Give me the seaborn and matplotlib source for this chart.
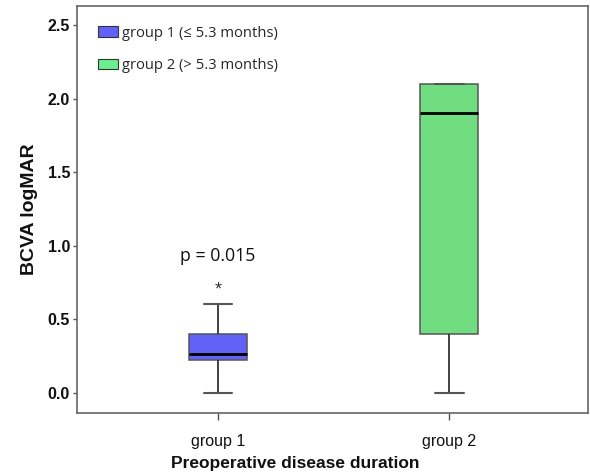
import pandas as pd
import numpy as np
import matplotlib
matplotlib.use("Agg")
import matplotlib.pyplot as plt
import seaborn as sns
from matplotlib.patches import Patch

# BCVA logMAR values per group
group_names = ["group 1", "group 2"]
group1_values = [0.0, 0.22, 0.26, 0.40, 0.60]
group2_values = [0.0, 0.40, 1.90, 2.10, 2.10]
legend_labels = ["group 1 (\u2264 5.3 months)", "group 2 (> 5.3 months)"]
box_colors = ["#6262F8", "#70DD80"]
legend_colors = ["#6262FA", "#6CF08E"]
y_ticks = [0.0, 0.5, 1.0, 1.5, 2.0, 2.5]

df = pd.DataFrame({
    "group": [group_names[0]] * len(group1_values) + [group_names[1]] * len(group2_values),
    "value": group1_values + group2_values,
})

sns.set_style("white")
plt.rcParams["font.family"] = ["Liberation Sans", "DejaVu Sans"]

fig = plt.figure(figsize=(5.9, 4.76), dpi=100)
ax = fig.add_axes([0.1305, 0.132, 0.866, 0.855])

sns.boxplot(data=df, x="group", y="value", hue="group", palette=box_colors,
            saturation=1, width=0.25, linecolor="#555555", linewidth=1.1,
            legend=False, ax=ax,
            medianprops=dict(color="black", linewidth=2),
            whiskerprops=dict(color="#333333", linewidth=1.3),
            capprops=dict(color="#555555", linewidth=1.5))

ax.set_xlim(-0.61, 1.60)
ax.set_ylim(-0.14, 2.63)
ax.set_yticks(y_ticks)
ax.set_yticklabels([f"{t:.1f}" for t in y_ticks], fontweight="bold", fontsize=11.5, color="#111111")
ax.tick_params(axis="x", labelsize=11.5, length=5, width=1, color="#555555", pad=10, labelcolor="#111111")
ax.tick_params(axis="y", length=3, width=1, color="#555555", pad=2)
ax.tick_params(bottom=True, left=True)

for s in ax.spines.values():
    s.set_color("#666666")
    s.set_linewidth(1.2)

ax.set_xlabel("Preoperative disease duration", fontsize=12.5, fontweight="bold", color="#111111")
ax.xaxis.set_label_coords((295 - 77) / 511, -0.105)
ax.xaxis.label.set_va("top")
ax.set_ylabel("BCVA logMAR", fontsize=14, fontweight="bold", labelpad=7, color="#111111")

# p-value annotation for group 1
ax.text(0, 0.93, "p = 0.015", ha="center", va="center", fontsize=12.8,
        family=["Open Sans", "DejaVu Sans"], color="#111111")
ax.text(0, 0.70, "*", ha="center", va="center", fontsize=13, color="#333333")

handles = [Patch(facecolor=c, edgecolor="#333333", linewidth=0.8) for c in legend_colors]
ax.legend(handles, legend_labels, loc="upper left", frameon=False,
          bbox_to_anchor=(0.015, 0.985), handlelength=1.35, handleheight=0.75,
          labelspacing=1.2, handletextpad=0.3,
          prop={"family": ["Open Sans", "DejaVu Sans"], "size": 10.6})

fig.savefig("out.png", dpi=100)
